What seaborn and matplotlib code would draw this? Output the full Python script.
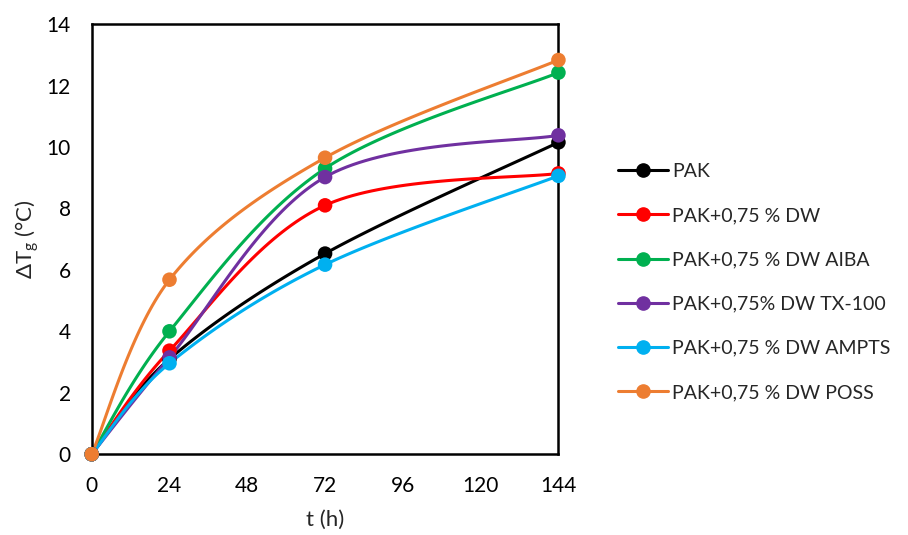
"""Temperature increase vs time for PAK samples (Excel-style smoothed lines)."""

import matplotlib.pyplot as plt
import numpy as np
import pandas as pd
import seaborn as sns
from matplotlib.lines import Line2D

# data
hours = [0, 24, 72, 144]
series_names = [
    "PAK",
    "PAK+0,75 % DW",
    "PAK+0,75 % DW AIBA",
    "PAK+0,75% DW TX-100",
    "PAK+0,75 % DW AMPTS",
    "PAK+0,75 % DW POSS",
]
pak = [0, 3.1, 6.53, 10.15]
pak_dw = [0, 3.37, 8.1, 9.14]
pak_aiba = [0, 4.0, 9.3, 12.42]
pak_tx100 = [0, 3.15, 9.02, 10.38]
pak_ampts = [0, 2.96, 6.17, 9.06]
pak_poss = [0, 5.68, 9.65, 12.83]
series_values = [pak, pak_dw, pak_aiba, pak_tx100, pak_ampts, pak_poss]
colors = ["#000000", "#FF0000", "#00B050", "#7030A0", "#00B0F0", "#ED7D31"]

sns.set_style("white")
plt.rcParams["font.family"] = ["Lato", "DejaVu Sans"]
plt.rcParams["mathtext.fontset"] = "custom"
plt.rcParams["mathtext.rm"] = "Lato"
plt.rcParams["mathtext.it"] = "Lato:italic"


def smooth(x, y, n=40):
    """Bezier smoothing like Excel's 'smoothed line' option."""
    pts = np.column_stack([np.asarray(x, float), np.asarray(y, float)])
    out = []
    for i in range(len(pts) - 1):
        p0 = pts[max(i - 1, 0)]
        p1 = pts[i]
        p2 = pts[i + 1]
        p3 = pts[min(i + 2, len(pts) - 1)]
        c1 = p1 + (p2 - p0) / 6
        c2 = p2 - (p3 - p1) / 6
        t = np.linspace(0, 1, n)[:, None]
        seg = ((1 - t) ** 3) * p1 + 3 * ((1 - t) ** 2) * t * c1 \
            + 3 * (1 - t) * t ** 2 * c2 + t ** 3 * p2
        out.append(seg if i == 0 else seg[1:])
    curve = np.vstack(out)
    return curve[:, 0], curve[:, 1]


fig = plt.figure(figsize=(9.08, 5.35), dpi=100)
ax = fig.add_axes([0.101, 0.151, 0.514, 0.804])

for name, vals, col in zip(series_names, series_values, colors):
    sx, sy = smooth(hours, vals)
    curve = pd.DataFrame({"t": sx, "dT": sy})
    sns.lineplot(data=curve, x="t", y="dT", color=col, linewidth=2.2,
                 sort=False, estimator=None, ax=ax)
    pts = pd.DataFrame({"t": hours, "dT": vals})
    sns.scatterplot(data=pts, x="t", y="dT", color=col, s=110,
                    edgecolor="none", ax=ax, clip_on=False, zorder=5)

ax.set_xlim(0, 144)
ax.set_ylim(0, 14)
ax.set_xticks(range(0, 145, 24))
ax.set_yticks(range(0, 15, 2))
ax.tick_params(direction="in", length=5, width=1.3, labelsize=15,
               colors="#000000")
ax.tick_params(axis="x", pad=16)
ax.tick_params(axis="y", pad=15)
for side in ["left", "right", "top", "bottom"]:
    ax.spines[side].set_visible(True)
    ax.spines[side].set_color("#000000")
    ax.spines[side].set_linewidth(1.8)

ax.set_xlabel("t (h)", fontsize=16, labelpad=10)
ax.set_ylabel(r"$\Delta$T$_\mathrm{g}$ (°C)", fontsize=16, labelpad=4)

handles = [
    Line2D([0], [0], color=c, linewidth=2.2, marker="o", markersize=9.5)
    for c in colors
]
fig.legend(handles, series_names, loc="center left",
           bbox_to_anchor=(0.661, 0.473), frameon=False, fontsize=14,
           handlelength=2.6, handletextpad=0.2, labelspacing=1.4)

fig.savefig("out.png", dpi=100)
